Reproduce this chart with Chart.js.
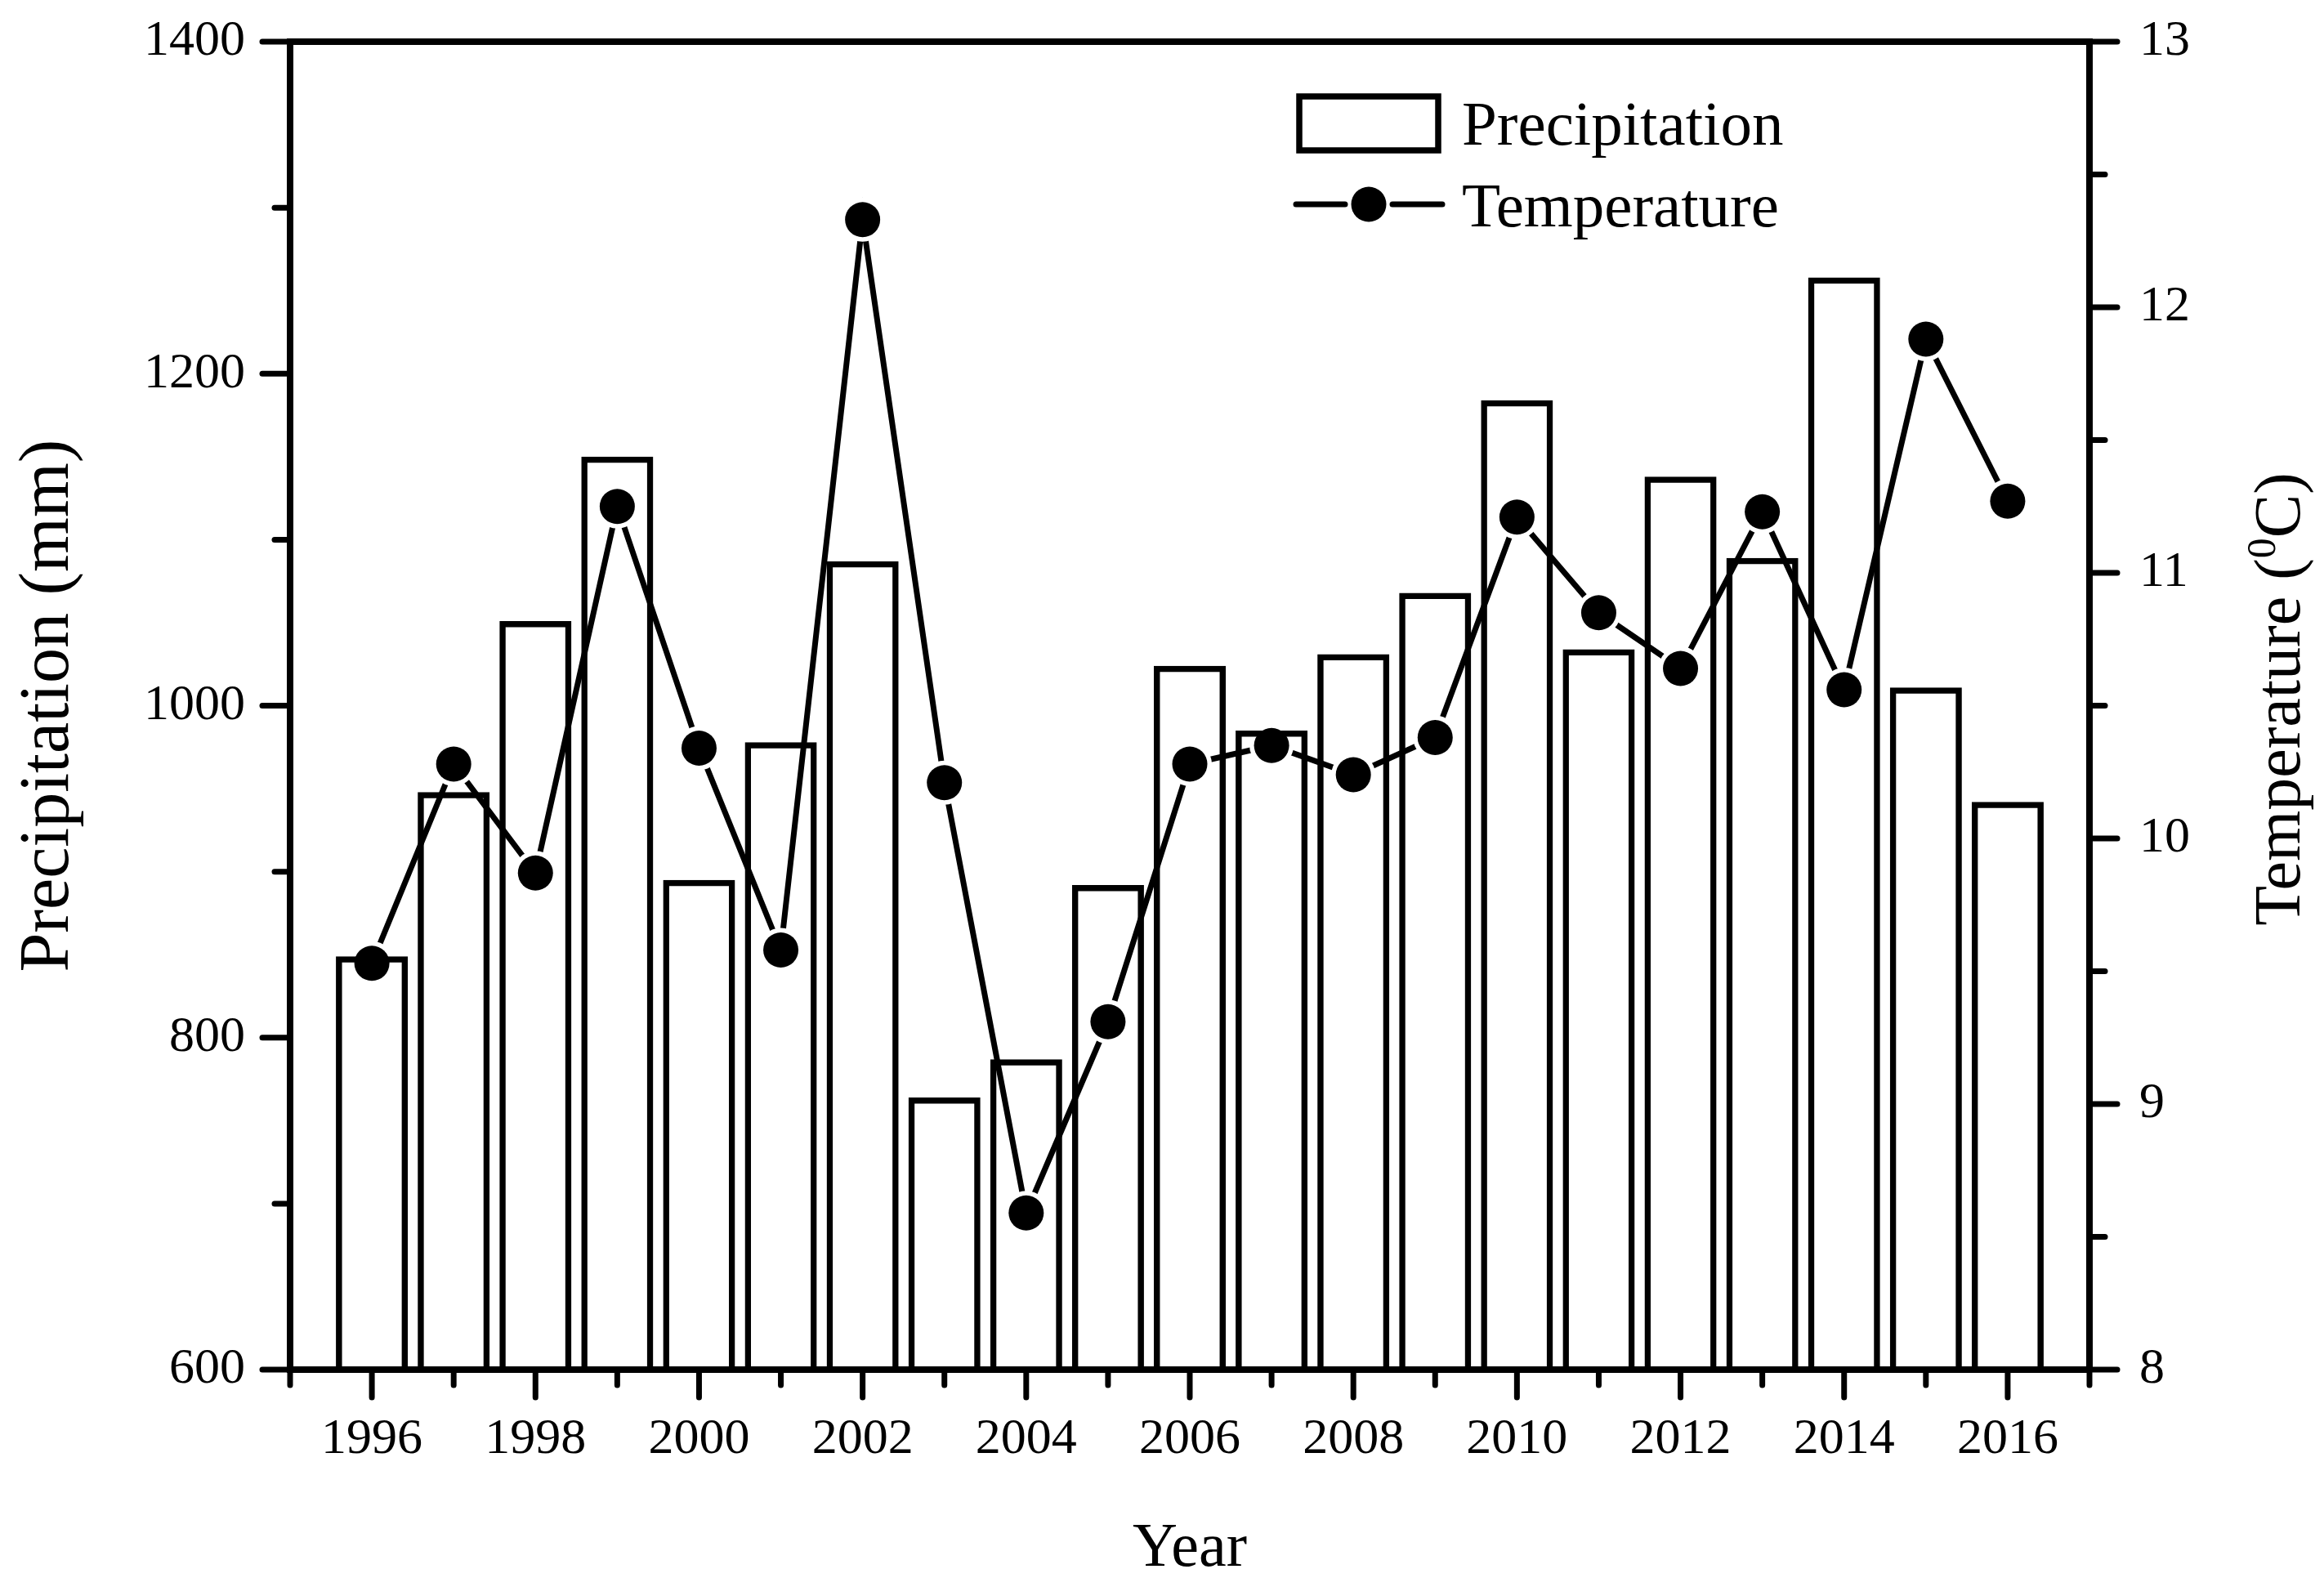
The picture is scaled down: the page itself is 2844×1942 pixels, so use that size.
<!DOCTYPE html>
<html lang="en">
<head>
<meta charset="UTF-8">
<title>Precipitation and Temperature, 1996-2016</title>
<script src="https://cdn.jsdelivr.net/npm/chart.js"></script>
<style>
  html, body { margin: 0; padding: 0; background: #fff; }
  #wrap { width: 2844px; height: 1942px; }
</style>
</head>
<body>
<div id="wrap"><canvas id="climateChart"></canvas></div>
<script>
// values
const years = [1996, 1997, 1998, 1999, 2000, 2001, 2002, 2003, 2004, 2005, 2006,
               2007, 2008, 2009, 2010, 2011, 2012, 2013, 2014, 2015, 2016];
const precipitation = [849, 948, 1051, 1150, 895, 978, 1087, 764, 787, 892, 1024,
                       985, 1031, 1068, 1184, 1034, 1138, 1089, 1258, 1011, 942];
const temperature = [9.53, 10.28, 9.87, 11.25, 10.34, 9.58, 12.33, 10.21, 8.59, 9.31, 10.28,
                     10.35, 10.24, 10.38, 11.21, 10.85, 10.64, 11.23, 10.56, 11.88, 11.27];

// labelled (major) ticks
const yearLabels = [1996, 1998, 2000, 2002, 2004, 2006, 2008, 2010, 2012, 2014, 2016];
const precipLabels = [600, 800, 1000, 1200, 1400];
const tempLabels = [8, 9, 10, 11, 12, 13];

const serif = "'Liberation Serif', 'Times New Roman', serif";

const precipPoints = years.map((y, i) => ({ x: y, y: precipitation[i] }));
const tempPoints = years.map((y, i) => ({ x: y, y: temperature[i] }));

// outward tick marks, long for labelled values, short for the others
const tickMarks = {
    id: 'tickMarks',
    afterDraw(chart) {
        const ctx = chart.ctx;
        const a = chart.chartArea;
        ctx.save();
        ctx.strokeStyle = '#000';
        ctx.lineWidth = 7;
        ctx.lineCap = 'round';
        const draw = (scaleId, majors, dir) => {
            const s = chart.scales[scaleId];
            s.ticks.forEach(t => {
                const p = s.getPixelForValue(t.value);
                const len = majors.includes(t.value) ? 34 : 19;
                ctx.beginPath();
                if (dir === 'down') { ctx.moveTo(p, a.bottom); ctx.lineTo(p, a.bottom + len); }
                if (dir === 'left') { ctx.moveTo(a.left, p); ctx.lineTo(a.left - len, p); }
                if (dir === 'right') { ctx.moveTo(a.right, p); ctx.lineTo(a.right + len, p); }
                ctx.stroke();
            });
        };
        draw('x', yearLabels, 'down');
        draw('y', precipLabels, 'left');
        draw('y1', tempLabels, 'right');
        ctx.restore();
    }
};

// right axis title reads bottom-to-top, with a superscript 0
const rightTitle = {
    id: 'rightTitle',
    afterDraw(chart) {
        const ctx = chart.ctx;
        const a = chart.chartArea;
        const big = '80px ' + serif, small = '50px ' + serif;
        const parts = [['Temperature (', big, 0], ['0', small, -30], ['C)', big, 0]];
        let total = 0;
        parts.forEach(p => { ctx.font = p[1]; total += ctx.measureText(p[0]).width; });
        ctx.save();
        ctx.translate(2787, (a.top + a.bottom) / 2 - 8);
        ctx.rotate(-Math.PI / 2);
        ctx.fillStyle = '#000';
        ctx.textBaseline = 'alphabetic';
        let x = -total / 2;
        parts.forEach(p => {
            ctx.font = p[1];
            ctx.fillText(p[0], x, 27 + p[2]);
            x += ctx.measureText(p[0]).width;
        });
        ctx.restore();
    }
};

// legend inside the plot, top right
const boxLegend = {
    id: 'boxLegend',
    afterDraw(chart) {
        const ctx = chart.ctx;
        const a = chart.chartArea;
        const lx = a.left + 1231;
        const ty = a.top;
        ctx.save();
        ctx.strokeStyle = '#000';
        ctx.fillStyle = '#000';
        ctx.lineWidth = 7.5;
        ctx.strokeRect(lx + 4, ty + 67, 170, 66);

        ctx.lineWidth = 7;
        ctx.lineCap = 'round';
        ctx.beginPath();
        ctx.moveTo(lx, ty + 199); ctx.lineTo(lx + 60, ty + 199);
        ctx.moveTo(lx + 118, ty + 199); ctx.lineTo(lx + 179, ty + 199);
        ctx.stroke();
        ctx.beginPath();
        ctx.arc(lx + 89, ty + 199, 21.5, 0, Math.PI * 2);
        ctx.fill();

        ctx.font = '77px ' + serif;
        ctx.textBaseline = 'alphabetic';
        ctx.fillText('Precipitation', lx + 203, ty + 126);
        ctx.fillText('Temperature', lx + 203, ty + 226);
        ctx.restore();
    }
};

// keep the plot box where the figure has it
const noLabelPadding = s => { s.paddingTop = 0; s.paddingBottom = 0; s.paddingLeft = 0; s.paddingRight = 0; };

const ctx = document.getElementById('climateChart').getContext('2d');

const chart = new Chart(ctx, {
    type: 'bar',
    data: {
        datasets: [
            {
                type: 'line',
                label: 'Temperature',
                data: tempPoints,
                xAxisID: 'x',
                yAxisID: 'y1',
                showLine: false,
                pointRadius: 21.5,
                pointBackgroundColor: '#000',
                pointBorderWidth: 0,
                order: 0
            },
            {
                label: 'Precipitation',
                data: precipPoints,
                xAxisID: 'x',
                yAxisID: 'y',
                backgroundColor: 'rgba(0,0,0,0)',
                borderColor: '#000',
                borderWidth: 7.5,
                borderSkipped: 'start',
                barPercentage: 0.88,
                categoryPercentage: 1,
                order: 1
            },
            {
                // white ring that opens a small gap in the line round each dot
                type: 'line',
                label: 'gap',
                data: tempPoints,
                xAxisID: 'x',
                yAxisID: 'y1',
                showLine: false,
                pointRadius: 27,
                pointBackgroundColor: '#fff',
                pointBorderWidth: 0,
                order: 2
            },
            {
                type: 'line',
                label: 'Temperature line',
                data: tempPoints,
                xAxisID: 'x',
                yAxisID: 'y1',
                borderColor: '#000',
                borderWidth: 7,
                pointRadius: 0,
                tension: 0,
                order: 3
            }
        ]
    },
    options: {
        responsive: true,
        maintainAspectRatio: false,
        devicePixelRatio: 1,
        animation: false,
        events: [],
        layout: { padding: 0 },
        plugins: {
            legend: { display: false },
            tooltip: { enabled: false }
        },
        scales: {
            x: {
                type: 'linear',
                position: 'bottom',
                min: 1995,
                max: 2017,
                offset: false,
                grid: { display: false, drawTicks: false },
                border: { display: true, color: '#000', width: 8 },
                ticks: {
                    stepSize: 1,
                    autoSkip: false,
                    maxRotation: 0,
                    padding: 49,
                    color: '#000',
                    font: { family: serif, size: 62 },
                    callback: v => yearLabels.includes(v) ? String(v) : ''
                },
                title: {
                    display: true,
                    text: 'Year',
                    color: '#000',
                    font: { family: serif, size: 76 },
                    padding: { top: 0, bottom: 0 }
                },
                afterFit: s => { s.height = 266; noLabelPadding(s); }
            },
            xTop: {
                type: 'linear',
                position: 'top',
                min: 1995,
                max: 2017,
                grid: { display: false, drawTicks: false },
                border: { display: true, color: '#000', width: 8 },
                ticks: { display: false },
                afterFit: s => { s.height = 51; noLabelPadding(s); }
            },
            y: {
                position: 'left',
                min: 600,
                max: 1400,
                grid: { display: false, drawTicks: false },
                border: { display: true, color: '#000', width: 8 },
                ticks: {
                    stepSize: 100,
                    padding: 55,
                    color: '#000',
                    font: { family: serif, size: 62 },
                    callback: v => precipLabels.includes(v) ? String(v) : ''
                },
                title: {
                    display: true,
                    text: 'Precipitation (mm)',
                    color: '#000',
                    font: { family: serif, size: 86 },
                    padding: { top: 9, bottom: 0 }
                },
                afterFit: s => { s.width = 355; noLabelPadding(s); }
            },
            y1: {
                position: 'right',
                min: 8,
                max: 13,
                grid: { display: false, drawTicks: false },
                border: { display: true, color: '#000', width: 8 },
                ticks: {
                    stepSize: 0.5,
                    padding: 61,
                    color: '#000',
                    font: { family: serif, size: 62 },
                    callback: v => tempLabels.includes(v) ? String(v) : ''
                },
                afterFit: s => { s.width = 287; noLabelPadding(s); }
            }
        }
    },
    plugins: [tickMarks, rightTitle, boxLegend]
});
</script>
</body>
</html>
